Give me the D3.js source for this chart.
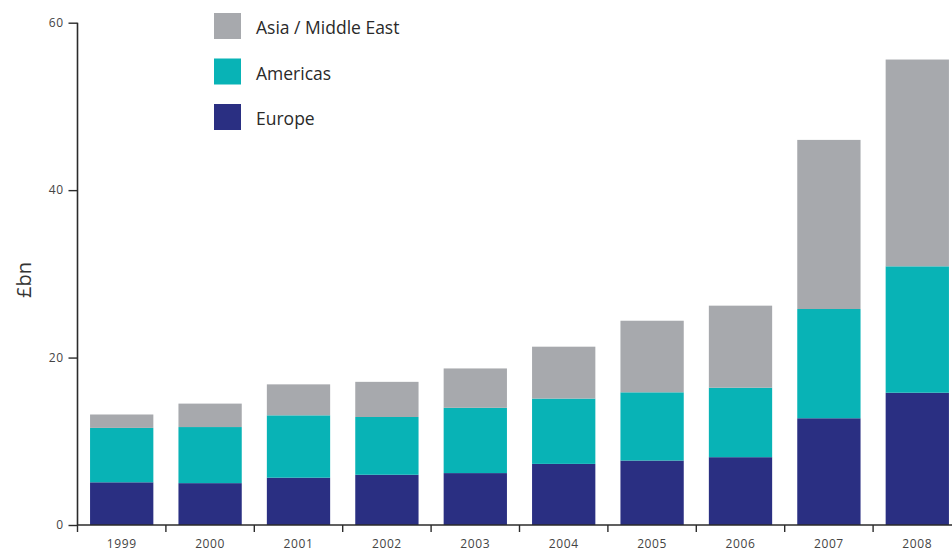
<!DOCTYPE html>
<html>
<head>
<meta charset="utf-8">
<script src="https://cdn.jsdelivr.net/npm/d3@7"></script>
<style>
  html, body { margin: 0; padding: 0; background: #ffffff; }
  svg { display: block; }
  text { font-family: "Open Sans", "Noto Sans", sans-serif; }
</style>
</head>
<body>
<svg id="chart" width="952" height="556"></svg>
<script>
// Annual totals by region, £bn
const years = ["1999", "2000", "2001", "2002", "2003", "2004", "2005", "2006", "2007", "2008"];
const europe = [5.1, 5.0, 5.65, 6.0, 6.2, 7.3, 7.7, 8.1, 12.75, 15.8];
const americas = [6.5, 6.7, 7.45, 6.9, 7.8, 7.8, 8.15, 8.3, 13.05, 15.1];
const asiaMiddleEast = [1.6, 2.8, 3.7, 4.2, 4.7, 6.2, 8.55, 9.8, 20.2, 24.7];
const yTicks = [0, 20, 40, 60];
const seriesNames = ["Europe", "Americas", "Asia / Middle East"];
const seriesColors = ["#2a2f82", "#08b3b6", "#a7a9ad"];
const legendOrder = ["Asia / Middle East", "Americas", "Europe"];

const rows = years.map((y, i) => ({
  year: y,
  "Europe": europe[i],
  "Americas": americas[i],
  "Asia / Middle East": asiaMiddleEast[i]
}));

const svg = d3.select("#chart");
const x0 = 77.5, x1 = 961.5, yBase = 525, yTop = 22.7;

const x = d3.scaleBand().domain(years).range([x0, x1])
  .paddingInner(0.284).paddingOuter(0.142);
const y = d3.scaleLinear().domain([0, 60]).range([yBase, yTop]);
const color = d3.scaleOrdinal().domain(seriesNames).range(seriesColors);

const stacked = d3.stack().keys(seriesNames)(rows);

// Stacked bars
svg.append("g").selectAll("g").data(stacked).join("g")
  .attr("fill", d => color(d.key))
  .selectAll("rect").data(d => d).join("rect")
  .attr("x", d => x(d.data.year))
  .attr("width", x.bandwidth())
  .attr("y", d => y(d[1]))
  .attr("height", d => y(d[0]) - y(d[1]));

// Y axis
const yAxis = d3.axisLeft(y).tickValues(yTicks).tickSize(9).tickPadding(5);
const gy = svg.append("g").attr("transform", `translate(${x0},0)`).call(yAxis);
gy.select(".domain").attr("stroke", "#2b2b2b").attr("stroke-width", 1.6)
  .attr("d", `M0,${yTop}V${yBase}`);
gy.selectAll(".tick line").attr("stroke", "#2b2b2b").attr("stroke-width", 1.4);
gy.selectAll(".tick text").attr("fill", "#444").attr("font-size", 12)
  .attr("letter-spacing", 0.5)
  .style("font-family", "'Open Sans', sans-serif");

// X axis: baseline with ticks at band boundaries, labels centred on bands
const step = x.step();
const boundaries = years.map(yr => x(yr) - step * x.paddingInner() / 2);
const gx = svg.append("g");
gx.append("line")
  .attr("x1", x0).attr("x2", x1).attr("y1", yBase).attr("y2", yBase)
  .attr("stroke", "#2b2b2b").attr("stroke-width", 1.6);
gx.selectAll("line.tick").data(boundaries).join("line")
  .attr("class", "tick")
  .attr("x1", d => d).attr("x2", d => d)
  .attr("y1", yBase).attr("y2", yBase + 7)
  .attr("stroke", "#2b2b2b").attr("stroke-width", 1.4);
gx.selectAll("text").data(years).join("text")
  .attr("x", d => x(d) + x.bandwidth() / 2)
  .attr("y", 548)
  .attr("text-anchor", "middle")
  .attr("fill", "#444")
  .attr("font-size", 12)
  .attr("letter-spacing", 0.6)
  .text(d => d);

// Y axis title
svg.append("text")
  .attr("transform", "translate(31,280) rotate(-90)")
  .attr("text-anchor", "middle")
  .attr("fill", "#333")
  .attr("font-size", 20)
  .text("£bn");

// Legend
const legend = svg.append("g").attr("transform", "translate(214,13)");
const li = legend.selectAll("g").data(legendOrder).join("g")
  .attr("transform", (d, i) => `translate(0,${i * 45.5})`);
li.append("rect")
  .attr("width", 27).attr("height", 26)
  .attr("fill", d => color(d));
li.append("text")
  .attr("x", 42).attr("y", 21)
  .attr("fill", "#2a2a2a")
  .attr("font-size", 17.5)
  .text(d => d);
</script>
</body>
</html>
